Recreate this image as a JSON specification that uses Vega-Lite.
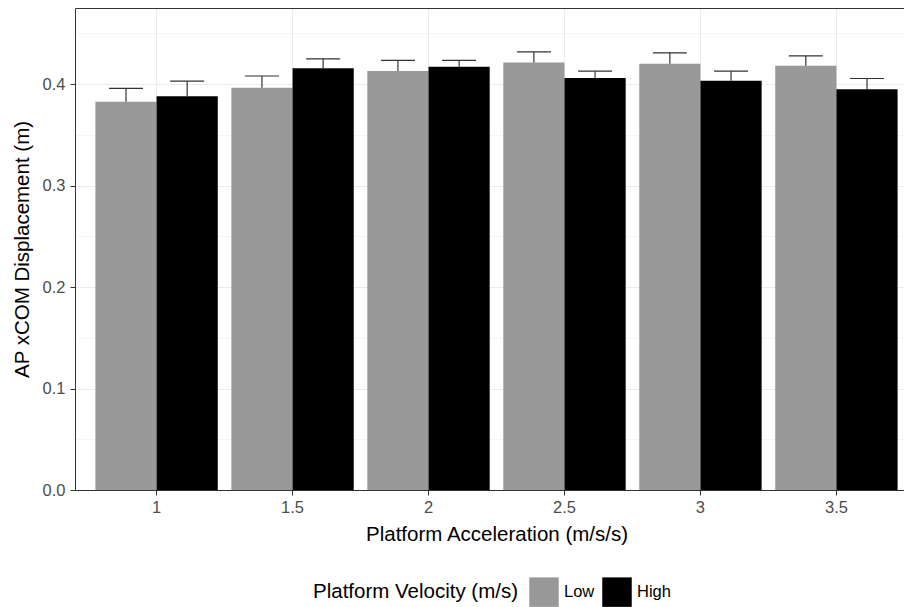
{
  "$schema": "https://vega.github.io/schema/vega-lite/v6.json",
  "autosize": {"type": "none"},
  "padding": {"left": 75, "top": 8, "right": 0, "bottom": 117},
  "width": 829,
  "height": 482,
  "background": "white",
  "config": {"font": "Liberation Sans", "view": {"stroke": null}},
  "data": {"values": [
    {"acc": "1", "vel": "Low", "mean": 0.3825, "upper": 0.3957},
    {"acc": "1", "vel": "High", "mean": 0.388, "upper": 0.4029},
    {"acc": "1.5", "vel": "Low", "mean": 0.3963, "upper": 0.408},
    {"acc": "1.5", "vel": "High", "mean": 0.4157, "upper": 0.4249},
    {"acc": "2", "vel": "Low", "mean": 0.413, "upper": 0.4233},
    {"acc": "2", "vel": "High", "mean": 0.417, "upper": 0.4233},
    {"acc": "2.5", "vel": "Low", "mean": 0.4213, "upper": 0.4318},
    {"acc": "2.5", "vel": "High", "mean": 0.4061, "upper": 0.4127},
    {"acc": "3", "vel": "Low", "mean": 0.42, "upper": 0.4308},
    {"acc": "3", "vel": "High", "mean": 0.4032, "upper": 0.4127},
    {"acc": "3.5", "vel": "Low", "mean": 0.418, "upper": 0.4278},
    {"acc": "3.5", "vel": "High", "mean": 0.395, "upper": 0.4055}
  ]},
  "resolve": {"axis": {"x": "independent"}},
  "layer": [
    {
      "mark": {"type": "bar"},
      "encoding": {
        "x": {"field": "acc", "type": "nominal", "sort": null,
          "scale": {"range": [0, 843], "paddingInner": 0.1, "paddingOuter": 0.15},
          "axis": {"title": "Platform Acceleration (m/s/s)", "labelAngle": 0, "bandPosition": 0.5,
            "grid": true, "gridColor": "#EBEBEB", "gridWidth": 1,
            "domainColor": "#333333", "domainWidth": 1, "tickColor": "#333333", "tickSize": 5, "tickWidth": 1,
            "labelColor": "#4D4D4D", "labelFontSize": 16.5, "labelPadding": 4,
            "titleFontSize": 20.5, "titleFontWeight": "normal", "titleColor": "#000000", "titlePadding": 9}},
        "xOffset": {"field": "vel", "type": "nominal", "sort": ["Low", "High"], "scale": {"paddingInner": 0, "paddingOuter": 0}},
        "y": {"field": "mean", "type": "quantitative",
          "scale": {"domain": [0, 0.475], "nice": false, "zero": true},
          "axis": {"title": "AP xCOM Displacement (m)",
            "values": [0, 0.05, 0.1, 0.15, 0.2, 0.25, 0.3, 0.35, 0.4, 0.45],
            "labelExpr": "round(datum.value*100) % 10 == 0 ? format(datum.value, '.1f') : ''",
            "grid": true, "gridColor": "#EBEBEB",
            "gridWidth": {"condition": {"test": "round(datum.value*100) % 10 != 0", "value": 0.5}, "value": 1},
            "tickOpacity": {"condition": {"test": "round(datum.value*100) % 10 != 0", "value": 0}, "value": 1},
            "domainColor": "#333333", "domainWidth": 1, "tickColor": "#333333", "tickSize": 5, "tickWidth": 1,
            "labelColor": "#4D4D4D", "labelFontSize": 16.5, "labelPadding": 5,
            "titleFontSize": 20.5, "titleFontWeight": "normal", "titleColor": "#000000", "titlePadding": 10}},
        "color": {"field": "vel", "type": "nominal", "sort": ["Low", "High"],
          "scale": {"domain": ["Low", "High"], "range": ["#999999", "#000000"]},
          "legend": {"orient": "none", "legendX": 238, "legendY": 569, "direction": "horizontal",
            "title": "Platform Velocity (m/s)", "titleOrient": "left", "titleFontSize": 20.5,
            "titleFontWeight": "normal", "titleColor": "#000000", "titlePadding": 10, "titleLimit": 500,
            "labelFontSize": 16.5, "labelColor": "#000000", "labelOffset": 5, "columnPadding": 7,
            "symbolType": "square", "symbolSize": 870, "symbolStrokeWidth": 0, "symbolOpacity": 1, "padding": 0}}
      }
    },
    {
      "mark": {"type": "rule", "color": "#333333", "strokeWidth": 1.2},
      "encoding": {
        "x": {"field": "acc", "type": "nominal", "sort": null, "axis": null},
        "xOffset": {"field": "vel", "type": "nominal", "sort": ["Low", "High"]},
        "y": {"field": "mean", "type": "quantitative"},
        "y2": {"field": "upper"}
      }
    },
    {
      "mark": {"type": "tick", "orient": "horizontal", "size": 34, "thickness": 1.2, "color": "#333333", "opacity": 1},
      "encoding": {
        "x": {"field": "acc", "type": "nominal", "sort": null,
          "axis": {"orient": "top", "title": null, "labels": false, "ticks": false, "grid": false, "domain": true, "domainColor": "#333333", "domainWidth": 1}},
        "xOffset": {"field": "vel", "type": "nominal", "sort": ["Low", "High"]},
        "y": {"field": "upper", "type": "quantitative"}
      }
    }
  ]
}
